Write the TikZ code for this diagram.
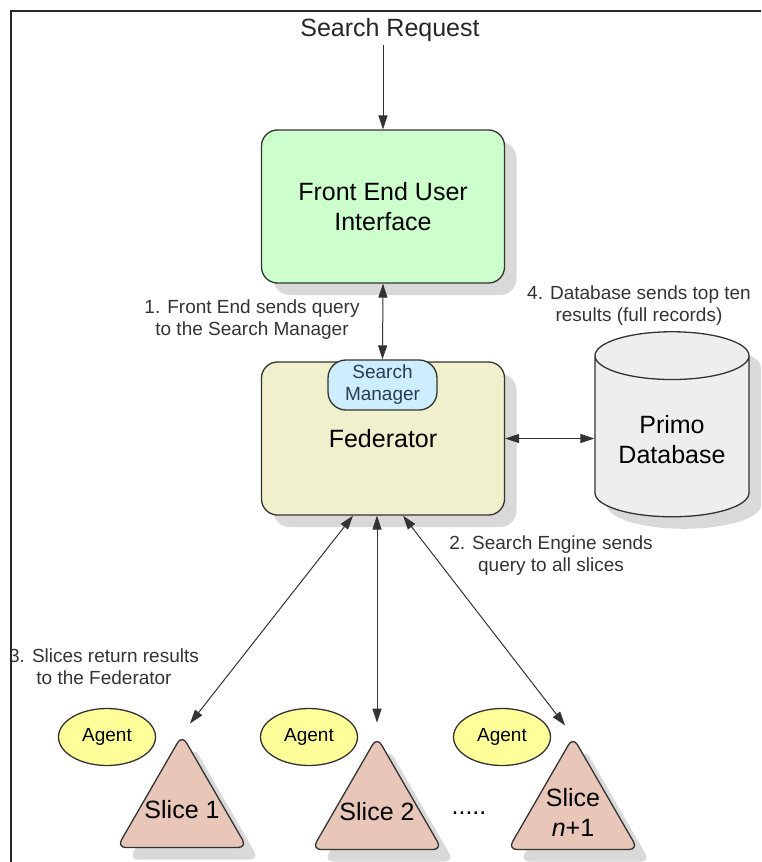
\documentclass[tikz,border=0pt]{standalone}
\usepackage{fontspec}
\setmainfont{Liberation Sans}
\usetikzlibrary{positioning,shapes.geometric,shadows,arrows.meta,calc}

\definecolor{frontgreen}{HTML}{CCFFCC}
\definecolor{fedbeige}{HTML}{F0F0CC}
\definecolor{mgrblue}{HTML}{CCEEFF}
\definecolor{dbgray}{HTML}{EEEEEE}
\definecolor{slicepink}{HTML}{E8C6B8}
\definecolor{agentyellow}{HTML}{FFFF99}
\definecolor{shadowgray}{HTML}{D9D9D9}
\definecolor{edgegray}{HTML}{333333}
\definecolor{mgrtext}{HTML}{2B3A55}

\newcommand{\bigtxt}{\fontsize{25}{30}\selectfont}
\newcommand{\smalltxt}{\fontsize{19}{22}\selectfont}

\tikzset{
	boxshadow/.style={drop shadow={shadow xshift=12pt, shadow yshift=-12pt, fill=shadowgray, opacity=1}},
	mainbox/.style={draw=edgegray, line width=1.3pt, rounded corners=16pt, minimum width=243pt, minimum height=153pt, align=center, font=\bigtxt, boxshadow},
	mgrbox/.style={draw=edgegray, line width=1.3pt, rounded corners=18pt, fill=mgrblue, minimum width=109pt, minimum height=50pt, inner sep=0pt, align=center, font=\smalltxt, text=mgrtext},
	dbbox/.style={cylinder, shape border rotate=90, aspect=0.42, draw=edgegray, line width=1.3pt, fill=dbgray, minimum width=154pt, minimum height=185pt, align=center, font=\bigtxt, boxshadow},
	slicebox/.style={regular polygon, regular polygon sides=3, minimum size=150pt, inner sep=0pt, draw=edgegray, line width=1.3pt, rounded corners=9pt, fill=slicepink, boxshadow},
	slicetext/.style={font=\bigtxt, align=center},
	agentbox/.style={ellipse, draw=edgegray, line width=1.3pt, fill=agentyellow, minimum width=97pt, minimum height=57pt, inner sep=0pt, font=\smalltxt},
	note/.style={font=\smalltxt, align=center, text=edgegray},
	link/.style={draw=black!80, line width=1pt, >={Triangle[length=14pt,width=9pt]}},
}

\begin{document}
\begin{tikzpicture}[x=1pt, y=-1pt]
	\useasboundingbox (0,0) rectangle (761,862);

	% Instances/Symbols:
	\node[font=\bigtxt, text=black!85] (req) at (390, 30) {Search Request};
	\node[mainbox, fill=frontgreen] (fe) at (383, 206.5) {Front End User\\Interface};
	\node[mainbox, fill=fedbeige] (fed) at (383, 438.5) {Federator};
	\node[mgrbox] (sm) at (382.5, 385) {Search\\Manager};
	\node[dbbox] (db) at (672, 440) {Primo\\Database};

	\node[slicebox, label={[slicetext]center:Slice 1}] (s1) at (182, 810) {};
	\node[slicebox, label={[slicetext]center:Slice 2}] (s2) at (377, 812) {};
	\node[slicebox, label={[slicetext]center:Slice\\\textit{n}+1}] (s3) at (573, 812) {};

	\node[agentbox] (a1) at (107, 737) {Agent};
	\node[agentbox] (a2) at (309, 737) {Agent};
	\node[agentbox] (a3) at (502, 737) {Agent};

	\node[font=\bigtxt, anchor=base] (dots) at (469, 814) {.....};

	% Coordinates:
	\coordinate (f1) at ($(fed.south)+(-30,0)$);
	\coordinate (f2) at ($(fed.south)+(-6,0)$);
	\coordinate (f3) at ($(fed.south)+(20,0)$);

	% Lines:
	\draw[link, ->] (fe.north |- req.south) -- (fe.north);
	\draw[link, <->] (fe.south) -- (sm.north);
	\draw[link, <->] (fed.east) -- (fed.east -| db.west);
	\draw[link, <->, shorten >=13pt] (f1) -- (s1.corner 1);
	\draw[link, <->, shorten >=13pt] (f2) -- (s2.corner 1);
	\draw[link, <->, shorten >=13pt] (f3) -- (s3.corner 1);

	% Labels
	\node[note] (l1) at (252, 320) {1. Front End sends query\\to the Search Manager};
	\node[note] (l4) at (639, 306) {4. Database sends top ten\\results (full records)};
	\node[note] (l2) at (551, 556) {2. Search Engine sends\\query to all slices};
	\node[note] (l3) at (104, 667) {3. Slices return results\\to the Federator};

	% Frame
	\draw[line width=2pt, black!85] (11, 862) -- (11, 11) -- (761, 11);

\end{tikzpicture}
\end{document}
